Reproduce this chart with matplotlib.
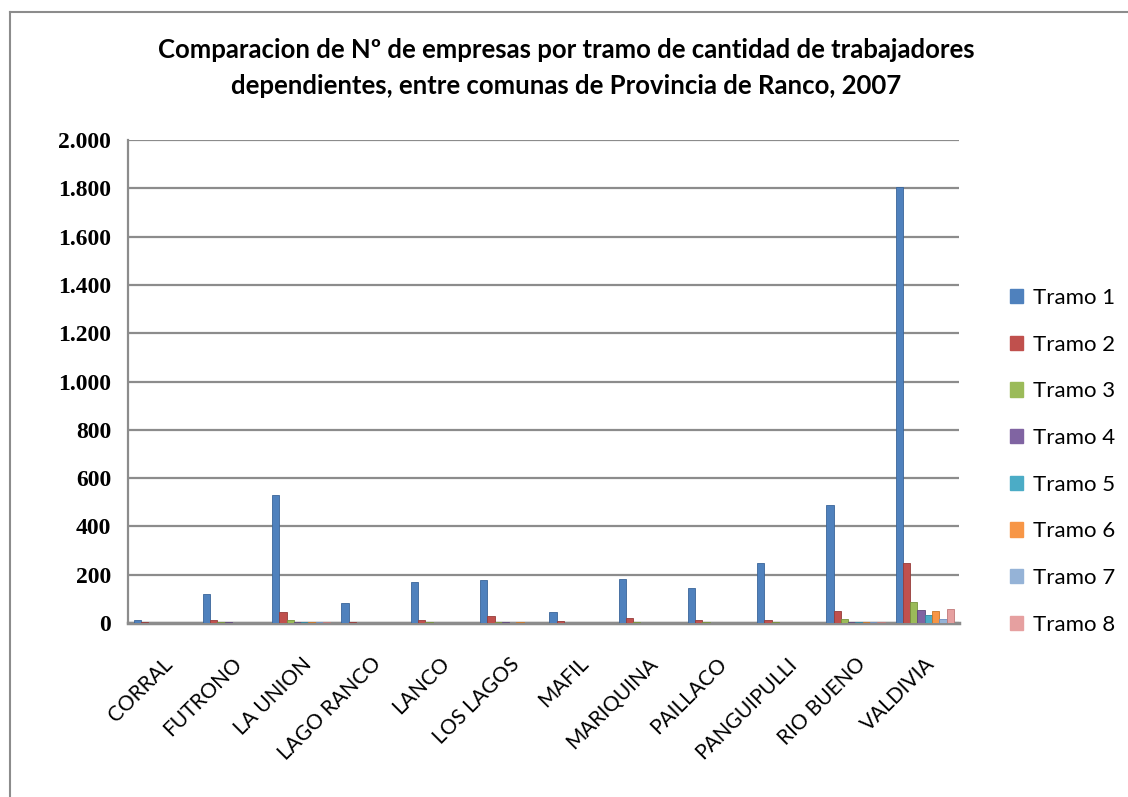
import numpy as np
import matplotlib.pyplot as plt
from matplotlib.lines import Line2D
from matplotlib.patches import Patch

# ---- datos ----
comunas = ["CORRAL", "FUTRONO", "LA UNION", "LAGO RANCO", "LANCO", "LOS LAGOS",
           "MAFIL", "MARIQUINA", "PAILLACO", "PANGUIPULLI", "RIO BUENO", "VALDIVIA"]
tramo1 = [12, 122, 530, 82, 170, 177, 45, 183, 145, 248, 487, 1805]
tramo2 = [4, 14, 45, 3, 12, 30, 10, 22, 13, 12, 50, 250]
tramo3 = [2, 6, 12, 1, 3, 4, 2, 4, 3, 3, 17, 85]
tramo4 = [1, 3, 5, 1, 2, 3, 1, 2, 2, 2, 5, 55]
tramo5 = [1, 2, 4, 1, 2, 2, 1, 2, 1, 2, 4, 35]
tramo6 = [1, 2, 5, 1, 2, 3, 1, 2, 2, 2, 5, 50]
tramo7 = [1, 1, 3, 0, 1, 1, 0, 1, 1, 1, 3, 18]
tramo8 = [1, 2, 6, 1, 2, 2, 1, 2, 2, 2, 4, 60]
nombres = ["Tramo 1", "Tramo 2", "Tramo 3", "Tramo 4",
           "Tramo 5", "Tramo 6", "Tramo 7", "Tramo 8"]
y_ticks = [0, 200, 400, 600, 800, 1000, 1200, 1400, 1600, 1800, 2000]
y_labels = ["0", "200", "400", "600", "800", "1.000", "1.200",
            "1.400", "1.600", "1.800", "2.000"]

colores = ["#4F81BD", "#C0504D", "#9BBB59", "#8064A2",
           "#4BACC6", "#F79646", "#95B3D7", "#E6A0A0"]
bordes = ["#3A659A", "#963C3A", "#76923C", "#5F497A",
          "#31859C", "#C77628", "#6F8FBF", "#C07878"]
series = [tramo1, tramo2, tramo3, tramo4, tramo5, tramo6, tramo7, tramo8]

fig = plt.figure(figsize=(11.28, 7.97), dpi=100)
ax = fig.add_axes([0.1135, 0.2183, 0.737, 0.606])

# marco exterior (solo arriba e izquierda se ven)
fig.add_artist(Line2D([10/1128, 1.0], [1-12/797, 1-12/797], color="#8c8c8c", lw=1.5))
fig.add_artist(Line2D([10/1128, 10/1128], [0, 1-12/797], color="#8c8c8c", lw=1.5))

x = np.arange(len(comunas))
ancho = 0.105
for i in range(len(series)):
    ax.bar(x + (i-3.5)*ancho, series[i], width=ancho, color=colores[i],
           edgecolor=bordes[i], linewidth=0.6, zorder=3)

ax.set_xlim(-0.5, len(comunas)-0.5)
ax.set_ylim(0, 2000)
ax.set_yticks(y_ticks)
ax.set_yticklabels(y_labels, family="Liberation Serif", fontsize=17, fontweight="bold")
ax.set_xticks(x)
ax.set_xticklabels(comunas, rotation=45, ha="right", va="top",
                   rotation_mode="anchor", family="Lato", fontsize=15)
ax.tick_params(axis="y", length=0, pad=12)
ax.tick_params(axis="x", length=0, pad=22)
ax.grid(axis="y", color="#8c8c8c", linewidth=1.6, zorder=0)
for s in ["top", "right"]:
    ax.spines[s].set_visible(False)
ax.spines["left"].set_color("#8c8c8c")
ax.spines["left"].set_linewidth(1.6)
ax.spines["bottom"].set_color("#8c8c8c")
ax.spines["bottom"].set_linewidth(2.5)

fig.text(0.502, 1-50/797, "Comparacion de Nº de empresas por tramo de cantidad de trabajadores",
         ha="center", va="center", family="Lato", fontweight="bold", fontsize=18.5)
fig.text(0.502, 1-86/797, "dependientes, entre comunas de Provincia de Ranco, 2007",
         ha="center", va="center", family="Lato", fontweight="bold", fontsize=18.5)

handles = [Patch(facecolor=colores[i], edgecolor=colores[i]) for i in range(8)]
fig.legend(handles, nombres, loc="upper left", bbox_to_anchor=(990/1128, 1-268/797),
           frameon=False, prop={"family": "Lato", "size": 16},
           handlelength=0.6, handleheight=0.6, handletextpad=0.45, labelspacing=1.2)

plt.savefig("out.png", dpi=100)
